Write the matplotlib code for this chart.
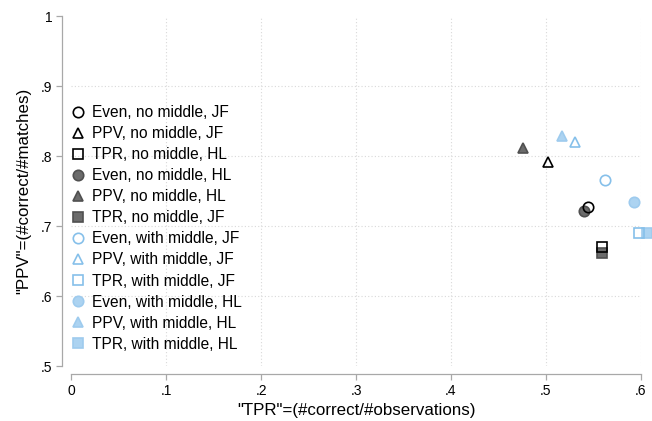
import matplotlib
matplotlib.use("Agg")
import matplotlib.pyplot as plt

plt.rcParams['font.family'] = ['Liberation Sans', 'DejaVu Sans']

# series, in legend order
labels = [
    "Even, no middle, JF", "PPV, no middle, JF", "TPR, no middle, HL",
    "Even, no middle, HL", "PPV, no middle, HL", "TPR, no middle, JF",
    "Even, with middle, JF", "PPV, with middle, JF", "TPR, with middle, JF",
    "Even, with middle, HL", "PPV, with middle, HL", "TPR, with middle, HL",
]
tpr = [0.544, 0.502, 0.559, 0.540, 0.476, 0.559,
       0.562, 0.531, 0.598, 0.593, 0.517, 0.607]
ppv = [0.727, 0.792, 0.670, 0.721, 0.812, 0.661,
       0.766, 0.820, 0.690, 0.734, 0.829, 0.690]

x_ticks = [0, 0.1, 0.2, 0.3, 0.4, 0.5, 0.6]
x_ticklabels = ["0", ".1", ".2", ".3", ".4", ".5", ".6"]
y_ticks = [0.5, 0.6, 0.7, 0.8, 0.9, 1.0]
y_ticklabels = [".5", ".6", ".7", ".8", ".9", "1"]

# styles
shapes = ['o', '^', 's'] * 4
faces = ['none'] * 3 + ['#6b6b6b'] * 3 + ['none'] * 3 + ['#acd3f1'] * 3
edges = ['black'] * 3 + ['#505050'] * 3 + ['#86c0ea'] * 3 + ['#9ecbee'] * 3

fig = plt.figure(figsize=(6.52, 4.21), dpi=100)
ax = fig.add_axes([71.3 / 652, 1 - 366 / 421, 569.4 / 652, 350 / 421])

for gx in x_ticks[1:]:
    ax.axvline(gx, color='#d9d9d9', lw=0.8, ls=(0, (1, 2)), zorder=0)
for gy in y_ticks[1:-1]:
    ax.axhline(gy, color='#d9d9d9', lw=0.8, ls=(0, (1, 2)), zorder=0)

for i in range(len(labels)):
    z = 3 if faces[i] == 'none' else 2
    ax.plot(tpr[i], ppv[i], ls='none', marker=shapes[i], ms=7.5,
            mfc=faces[i], mec=edges[i], mew=1.2, label=labels[i], zorder=z,
            clip_on=False)

ax.set_xlim(0, 0.6)
ax.set_ylim(0.5, 1.0)
ax.set_xticks(x_ticks)
ax.set_xticklabels(x_ticklabels)
ax.set_yticks(y_ticks)
ax.set_yticklabels(y_ticklabels)

for side in ['top', 'right']:
    ax.spines[side].set_visible(False)
ax.spines['left'].set_position(('outward', 6.5))
ax.spines['bottom'].set_position(('outward', 5.8))
for side in ['left', 'bottom']:
    ax.spines[side].set_color('#a8a8a8')
    ax.spines[side].set_linewidth(0.9)
ax.tick_params(axis='both', color='#a8a8a8', length=4, width=0.9,
               labelsize=10, pad=3)

ax.set_xlabel('"TPR"=(#correct/#observations)', fontsize=12.2, labelpad=4)
ax.set_ylabel('"PPV"=(#correct/#matches)', fontsize=12.2, labelpad=7)

leg = ax.legend(loc='upper left', bbox_to_anchor=(70.7 / 652, 1 - 105 / 421),
                bbox_transform=fig.transFigure, frameon=False, fontsize=11.2,
                borderpad=0, borderaxespad=0, handlelength=1.0,
                handletextpad=0.38, labelspacing=0.39, markerscale=1.0)

fig.savefig('out.png', dpi=100)
